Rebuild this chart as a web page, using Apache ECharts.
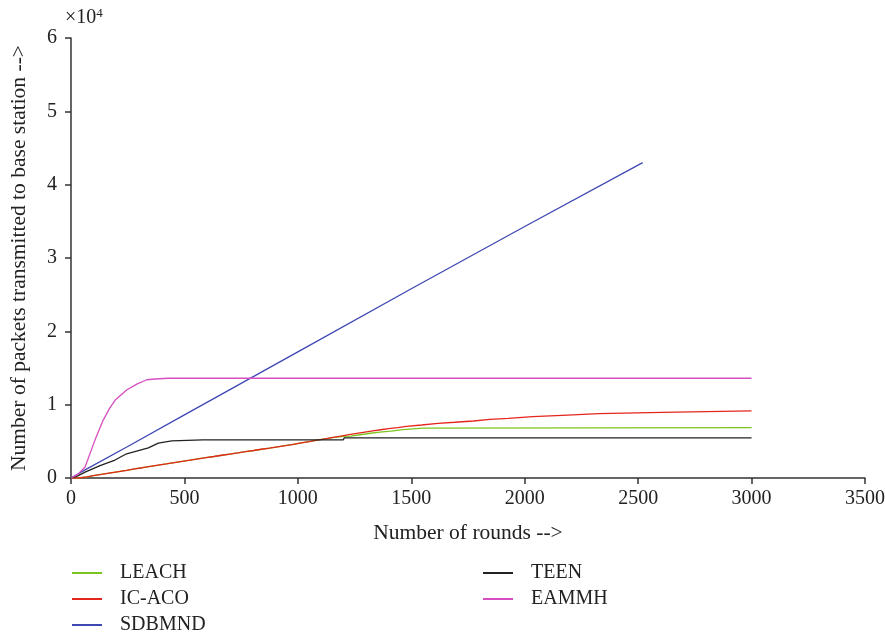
<!DOCTYPE html>
<html><head><meta charset="utf-8">
<script src="https://cdn.jsdelivr.net/npm/echarts@6/dist/echarts.min.js"></script>
<style>html,body{margin:0;padding:0;background:#fff}#c{width:885px;height:637px}</style>
</head><body><div id="c"></div>
<script>
const xTicks = [0, 500, 1000, 1500, 2000, 2500, 3000, 3500];
const yTicks = [0, 1, 2, 3, 4, 5, 6];
const seriesNames = ['LEACH', 'IC-ACO', 'SDBMND', 'TEEN', 'EAMMH'];
const leach = [[0,0],[35,150],[70,350],[105,520],[140,700],[175,880],[210,1050],[245,1230],[280,1400],[315,1580],[350,1750],[385,1920],[420,2100],[455,2270],[490,2430],[525,2600],[560,2770],[595,2930],[630,3100],[665,3260],[700,3420],[735,3590],[770,3750],[805,3920],[840,4080],[875,4250],[910,4420],[945,4600],[980,4780],[1015,4960],[1050,5150],[1085,5340],[1120,5530],[1160,5650],[1193,5700],[1234,5900],[1274,6100],[1320,6250],[1362,6400],[1410,6600],[1463,6800],[1550,6880],[3000,6880]];
const icaco = [[0,0],[35,150],[70,350],[105,520],[140,700],[175,880],[210,1050],[245,1230],[280,1400],[315,1580],[350,1750],[385,1920],[420,2100],[455,2270],[490,2430],[525,2600],[560,2770],[595,2930],[630,3100],[665,3260],[700,3420],[735,3590],[770,3750],[805,3920],[840,4080],[875,4250],[910,4420],[945,4600],[980,4780],[1015,4960],[1050,5150],[1085,5340],[1120,5530],[1155,5720],[1190,5900],[1225,6080],[1260,6250],[1295,6420],[1330,6580],[1365,6730],[1400,6880],[1440,7050],[1479,7230],[1545,7460],[1618,7600],[1692,7770],[1773,8000],[1847,8140],[1927,8360],[2035,8550],[2165,8770],[2327,8960],[2605,9150],[3000,9150]];
const sdbmnd = [[0,0],[62,1100],[250,4300],[500,8600],[1000,17200],[1500,25800],[2000,34300],[2520,43000]];
const teen = [[0,0],[30,300],[62,800],[128,1700],[194,2450],[245,3300],[341,4100],[385,4750],[444,5050],[580,5200],[1200,5200],[1205,5480],[3000,5480]];
const eammh = [[0,0],[30,500],[62,1500],[106,5200],[142,7900],[170,9500],[194,10600],[245,12000],[290,12800],[334,13400],[370,13500],[428,13600],[3000,13600]];
const colors = ['#7cc520', '#e5261c', '#3f48b2', '#222222', '#d64fc0'];
const datasets = [leach, icaco, sdbmnd, teen, eammh];
const steps = ['end', 'end', false, false, false];

const font = 'Liberation Serif';
const chart = echarts.init(document.getElementById('c'));
const legendBase = {orient: 'vertical', top: 558, height: 80, itemWidth: 30, itemHeight: 2, icon: 'rect', itemGap: 6,
  textStyle: {fontFamily: font, fontSize: 20, color: '#222', padding: [0,0,0,13]}};
chart.setOption({
  animation: false,
  grid: {left: 71, right: 20, top: 38, bottom: 159, outerBoundsMode: 'none', containLabel: false},
  xAxis: {
    type: 'value', min: xTicks[0], max: xTicks[xTicks.length-1], interval: 500,
    name: 'Number of rounds -->', nameLocation: 'middle', nameGap: 44, nameMoveOverlap: false,
    nameTextStyle: {fontFamily: font, fontSize: 21.5, color: '#222'},
    axisLine: {lineStyle: {color: '#333', width: 1.5}},
    axisTick: {inside: false, length: 6, lineStyle: {color: '#333', width: 1.5}},
    axisLabel: {fontFamily: font, fontSize: 20, color: '#222', margin: 11,
      formatter: v => String(v)},
    splitLine: {show: false}
  },
  yAxis: {
    type: 'value', min: 0, max: 60000, interval: 10000,
    name: 'Number of packets transmitted to base station -->', nameLocation: 'middle', nameGap: 41, nameMoveOverlap: false,
    nameTextStyle: {fontFamily: font, fontSize: 21.5, color: '#222'},
    axisLine: {show: true, lineStyle: {color: '#333', width: 1.5}},
    axisTick: {show: true, length: 6, lineStyle: {color: '#333', width: 1.5}},
    axisLabel: {fontFamily: font, fontSize: 20, color: '#222', margin: 14,
      formatter: v => String(yTicks[Math.round(v/10000)])},
    splitLine: {show: false}
  },
  legend: [
    Object.assign({data: seriesNames.slice(0,3), left: 67}, legendBase),
    Object.assign({data: seriesNames.slice(3), left: 478}, legendBase)
  ],
  graphic: [{type: 'text', left: 65, top: 7, style: {
    text: '×10{s|4}', fontFamily: font, fontSize: 20, fill: '#222',
    rich: {s: {fontFamily: font, fontSize: 13, verticalAlign: 'top', padding: [0,0,9,0]}}
  }}],
  series: seriesNames.map((n, i) => ({
    name: n, type: 'line', data: datasets[i], step: steps[i], showSymbol: false,
    lineStyle: {color: colors[i], width: 1.3}, itemStyle: {color: colors[i]}
  }))
});
</script></body></html>
